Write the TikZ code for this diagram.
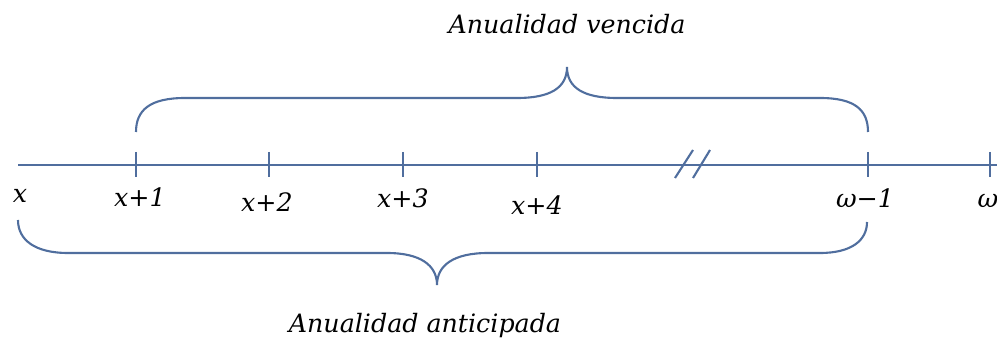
\documentclass[tikz,border=0pt]{standalone}
\usepackage{fontspec}
\setmainfont{DejaVu Serif}
\usetikzlibrary{positioning}
\definecolor{lineblue}{RGB}{80,110,158}

\begin{document}
\begin{tikzpicture}[x=0.025cm, y=-0.025cm, line width=1.5pt,
    lbl/.style={font=\fontsize{18}{20}\selectfont\itshape, text=black, anchor=base, inner sep=0pt}]
\useasboundingbox (0,0) rectangle (997,339);
% time axis
\draw[lineblue] (18,165) coordinate (start) -- (997,165) coordinate (stop);
\foreach \t/\px in {t1/136, t2/269, t3/403, t4/537, t5/868, t6/990}
  \draw[lineblue] (\px,152) -- (\px,177) coordinate (\t);
% break
\draw[lineblue] (675,178) -- (693,150);
\draw[lineblue] (693,178) -- (710,150);
% braces
\draw[lineblue] (136,132) .. controls (136,110) and (150,98) .. (185,98)
    -- (517,98) .. controls (550,98) and (567,88) .. (567,67)
    .. controls (567,88) and (584,98) .. (617,98)
    -- (820,98) .. controls (855,98) and (868,110) .. (868,132);
\draw[lineblue] (18,220) .. controls (18,240) and (35,253) .. (68,253)
    -- (387,253) .. controls (420,253) and (437,265) .. (437,285)
    .. controls (437,265) and (454,253) .. (488,253)
    -- (820,253) .. controls (852,253) and (867,240) .. (867,222);
% labels
\node[lbl] (vencida)
    at (567,34) {Anualidad vencida};
\node[lbl] (anticipada)
    at (425,332) {Anualidad anticipada};
\node[lbl] (lx)
    at (20,203) {x};
\node[lbl] (lx1)
    at (140,207) {x+1};
\node[lbl] (lx2)
    at (267,212) {x+2};
\node[lbl] (lx3)
    at (403,208) {x+3};
\node[lbl] (lx4)
    at (537,215) {x+4};
\node[lbl] (lw1)
    at (865,208) {ω−1};
\node[lbl] (lw)
    at (988,208) {ω};
\end{tikzpicture}
\end{document}
